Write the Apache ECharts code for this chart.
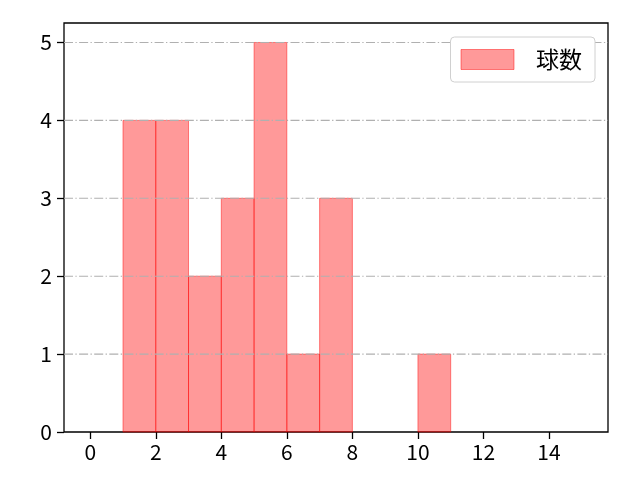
<!DOCTYPE html>
<html>
<head>
<meta charset="utf-8">
<script src="https://cdn.jsdelivr.net/npm/echarts@6/dist/echarts.min.js"></script>
<style>html,body{margin:0;padding:0;background:#fff}#c{width:640px;height:480px}</style>
</head>
<body>
<div id="c"></div>
<script>
var binStarts = [1, 2, 3, 4, 5, 6, 7, 8, 9, 10];
var binEnds   = [2, 3, 4, 5, 6, 7, 8, 9, 10, 11];
var counts    = [4, 4, 2, 3, 5, 1, 3, 0, 0, 1];
var xTicks = [0, 2, 4, 6, 8, 10, 12, 14];
var yTicks = [0, 1, 2, 3, 4, 5];
var gridValues = [1, 2, 3, 4, 5];
var seriesName = '球数';

var FONT = '"Noto Sans CJK JP", "Noto Sans", sans-serif';
var FILL = 'rgba(255,0,0,0.4)';
var EDGE = 'rgba(255,0,0,0.45)';

var histData = binStarts.map(function (s, i) { return [s, binEnds[i], counts[i]]; });
var gridData = gridValues.map(function (v) { return [v]; });

var chart = echarts.init(document.getElementById('c'), null, {renderer: 'canvas'});
chart.setOption({
  animation: false,
  backgroundColor: '#fff',
  grid: {left: 64, top: 23, width: 544, height: 409, show: true, borderColor: '#000', borderWidth: 1.3, backgroundColor: 'transparent'},
  legend: {
    right: 45, top: 37,
    data: [{name: seriesName, icon: 'rect'}],
    itemWidth: 53, itemHeight: 20,
    padding: [11, 13, 11, 10],
    backgroundColor: '#fff',
    borderColor: '#d0d0d0', borderWidth: 1, borderRadius: 4,
    textStyle: {fontFamily: FONT, fontSize: 23, color: '#000', padding: [0, 0, 0, 17]},
    itemStyle: {color: FILL, borderColor: EDGE, borderWidth: 1}
  },
  xAxis: {
    type: 'value', min: -0.8, max: 15.8,
    splitLine: {show: false},
    axisLine: {show: false, onZero: false},
    axisTick: {show: true, inside: false, length: 7, lineStyle: {color: '#000', width: 1.3}, customValues: xTicks},
    axisLabel: {show: true, margin: 10, fontFamily: FONT, fontSize: 21, color: '#000', customValues: xTicks, formatter: function (v) { return String(v); }}
  },
  yAxis: {
    type: 'value', min: 0, max: 5.25,
    splitLine: {show: false},
    axisLine: {show: false, onZero: false},
    axisTick: {show: true, inside: false, length: 7, lineStyle: {color: '#000', width: 1.3}, customValues: yTicks},
    axisLabel: {show: true, margin: 12, fontFamily: FONT, fontSize: 21, color: '#000', customValues: yTicks, formatter: function (v) { return String(v); }}
  },
  series: [
    {
      name: seriesName,
      type: 'custom',
      z: 2,
      itemStyle: {color: FILL, borderColor: EDGE, borderWidth: 1},
      renderItem: function (params, api) {
        if (api.value(2) <= 0) return null;
        var p0 = api.coord([api.value(0), 0]);
        var p1 = api.coord([api.value(1), api.value(2)]);
        return {
          type: 'rect',
          shape: {x: p0[0], y: p1[1], width: p1[0] - p0[0], height: p0[1] - p1[1]},
          style: {fill: FILL, stroke: EDGE, lineWidth: 1}
        };
      },
      encode: {x: [0, 1], y: 2},
      data: histData
    },
    {
      name: 'grid',
      type: 'custom',
      z: 3,
      silent: true,
      renderItem: function (params, api) {
        var a = api.coord([-0.8, api.value(0)]);
        var b = api.coord([15.8, api.value(0)]);
        return {
          type: 'line',
          shape: {x1: a[0], y1: a[1], x2: b[0], y2: b[1]},
          style: {stroke: '#b0b0b0', lineWidth: 1.1, lineDash: [9, 2.4, 1.3, 2.4]}
        };
      },
      encode: {y: 0},
      data: gridData
    }
  ]
});
</script>
</body>
</html>
